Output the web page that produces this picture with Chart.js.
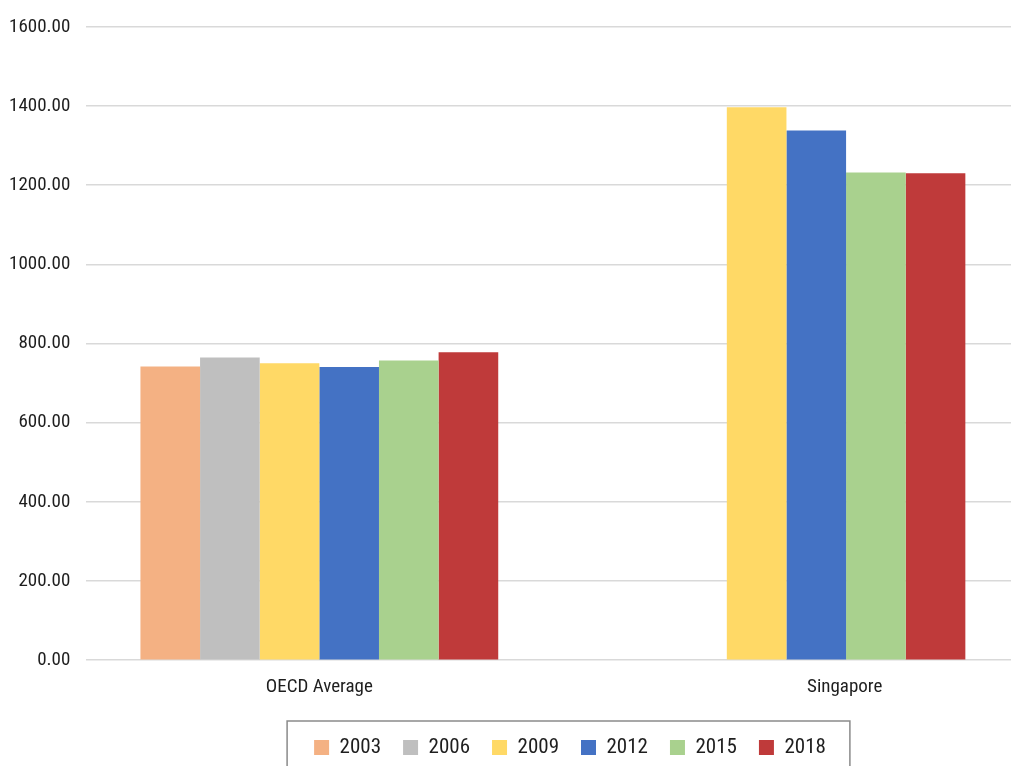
<!DOCTYPE html>
<html>
<head>
<meta charset="utf-8">
<title>OECD Average vs Singapore</title>
<script src="https://cdn.jsdelivr.net/npm/chart.js@4.4.1/dist/chart.umd.min.js"></script>
<style>
  html, body { margin: 0; padding: 0; background: #fff; overflow: hidden; }
  #wrap { width: 1020px; height: 766px; }
</style>
</head>
<body>
<div id="wrap"><canvas id="scoreChart" width="1020" height="766"></canvas></div>
<script>
var categories = ["OECD Average", "Singapore"];
var years = ["2003", "2006", "2009", "2012", "2015", "2018"];

var scores2003 = [742, null];
var scores2006 = [765, null];
var scores2009 = [750, 1397];
var scores2012 = [741, 1338];
var scores2015 = [757, 1232];
var scores2018 = [778, 1230];

var yTicks = [0, 200, 400, 600, 800, 1000, 1200, 1400, 1600];

var colors = ["#F4B183", "#BFBFBF", "#FFD966", "#4472C4", "#A9D18E", "#BF3A3A"];
var series = [scores2003, scores2006, scores2009, scores2012, scores2015, scores2018];

var font = "'Roboto Condensed', 'Liberation Sans Narrow', 'Liberation Sans', sans-serif";
var textColor = "#1e1e1e";

// where the legend row should be centred, and the frame around it
var legendCenter = 570;
var legendFrame = {
  id: "legendFrame",
  afterLayout: function (chart) {
    var l = chart.legend;
    var dx = legendCenter - (l.left + l.right) / 2;
    l.left += dx;
    l.right += dx;
  },
  afterDraw: function (chart) {
    var boxes = chart.legend.legendHitBoxes;
    if (!boxes || !boxes.length) return;
    var first = boxes[0], last = boxes[boxes.length - 1];
    var ctx = chart.ctx;
    ctx.save();
    ctx.strokeStyle = "#8a8a8a";
    ctx.lineWidth = 1.5;
    var x0 = first.left - 27;
    var x1 = last.left + last.width + 24;
    ctx.strokeRect(x0, first.top - 16, x1 - x0, 80);
    ctx.restore();
  }
};

function drawChart() {
  var ctx = document.getElementById("scoreChart");
  var scoreChart = new Chart(ctx, {
    type: "bar",
    data: {
      labels: categories,
      datasets: years.map(function (y, i) {
        return {
          label: y,
          data: series[i],
          backgroundColor: colors[i],
          borderWidth: 0,
          categoryPercentage: 0.766,
          barPercentage: 1
        };
      })
    },
    options: {
      responsive: false,
      animation: false,
      layout: { padding: { left: -6.5, top: 22, right: 0, bottom: -2 } },
      plugins: {
        tooltip: { enabled: false },
        legend: {
          position: "bottom",
          labels: {
            boxWidth: 15,
            boxHeight: 15,
            padding: 22,
            color: textColor,
            font: { family: font, size: 21 }
          }
        }
      },
      scales: {
        x: {
          grid: { display: false, drawTicks: false },
          border: { display: false },
          ticks: {
            color: textColor,
            padding: 16,
            maxRotation: 0,
            font: { family: font, size: 19 },
            // second label sits right of its bar group
            callback: function (v, i) {
              var name = categories[i];
              return i === 1 ? "\u2003".repeat(7) + name : name;
            }
          }
        },
        y: {
          min: 0,
          max: 1600,
          afterBuildTicks: function (axis) {
            axis.ticks = yTicks.map(function (v) { return { value: v }; });
          },
          grid: { color: "#d9d9d9", lineWidth: 1.5, drawTicks: false },
          border: { display: false },
          ticks: {
            color: textColor,
            padding: 15.5,
            font: { family: font, size: 19 },
            callback: function (v) { return v.toFixed(2); }
          }
        }
      }
    },
    plugins: [legendFrame]
  });
}

document.fonts.load("19px 'Roboto Condensed'").then(drawChart, drawChart);
</script>
</body>
</html>
